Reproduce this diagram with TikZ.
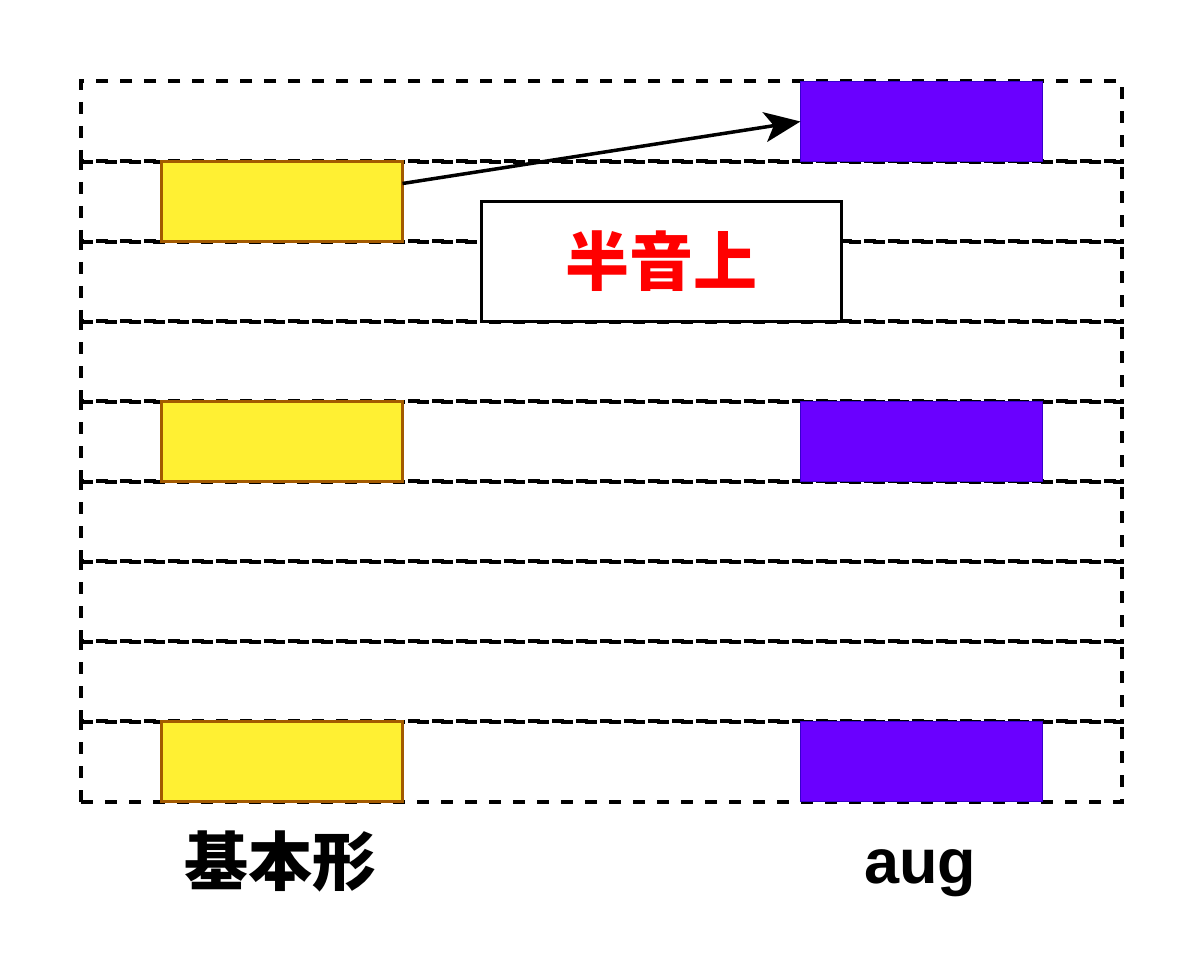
\documentclass[tikz,border=0pt]{standalone}
\usepackage{fontspec}
\setmainfont{Liberation Sans}
\newfontfamily\cjk{Noto Sans CJK JP}
\usetikzlibrary{arrows.meta,positioning}
\definecolor{yel}{HTML}{FFF033}
\definecolor{yelline}{HTML}{A35A00}
\definecolor{purp}{HTML}{6A00FF}
\definecolor{purpline}{HTML}{3700CC}
\begin{document}
\begin{tikzpicture}[x=1pt,y=-1pt,
  rowbox/.style={draw=black,line width=3.2pt,dash pattern=on 12pt off 12pt,minimum width=1041pt,minimum height=81pt,inner sep=0pt,outer sep=0pt},
  ybox/.style={draw=yelline,fill=yel,line width=3.5pt,minimum width=241pt,minimum height=80pt,inner sep=0pt,outer sep=0pt},
  pbox/.style={draw=purpline,fill=purp,line width=1pt,minimum width=242pt,minimum height=80pt,inner sep=0pt,outer sep=0pt},
  lbox/.style={draw=black,fill=white,line width=3.5pt,minimum width=360pt,minimum height=120pt,inner sep=0pt,outer sep=0pt,text=red,font=\cjk\bfseries\fontsize{64}{70}\selectfont},
  caption/.style={font=\bfseries\fontsize{63}{70}\selectfont,inner sep=0pt},
  arr/.style={line width=3.5pt,-{Stealth[length=36pt,width=30pt,inset=9pt]}}]
\useasboundingbox (0,0) rectangle (1200,960);
\foreach \i in {1,...,9} {
  \node[rowbox] (r\i) at (601.5,{81+40.5+80*(\i-1)}) {};
}
\node[ybox] (y1) at (282,201.5) {};
\node[ybox] (y2) at (282,441.5) {};
\node[ybox] (y3) at (282,761.5) {};
\node[pbox] (p1) at (921.5,121.5) {};
\node[pbox] (p2) at (921.5,441.5) {};
\node[pbox] (p3) at (921.5,761.5) {};
\node[lbox] (lab) at (661.5,261.5) {半音上};
\draw[arr] ([yshift=18pt]y1.east) -- (p1.west);
\node[caption,font=\cjk\bfseries\fontsize{64}{70}\selectfont] (c1) at (280,861) {基本形};
\node[caption,anchor=base] (c2) at (920,883) {aug};
\end{tikzpicture}
\end{document}
